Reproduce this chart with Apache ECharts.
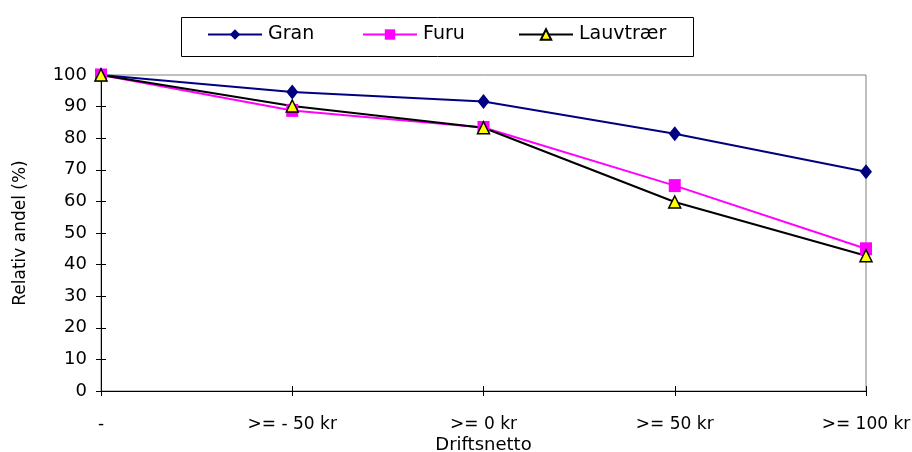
<!DOCTYPE html>
<html>
<head>
<meta charset="utf-8">
<script src="https://cdn.jsdelivr.net/npm/echarts@6/dist/echarts.min.js"></script>
<style>
html,body{margin:0;padding:0;background:#fff;}
#chart{width:912px;height:452px;}
</style>
</head>
<body>
<div id="chart"></div>
<script>
var categories = ['-', '>= - 50 kr', '>= 0 kr', '>= 50 kr', '>= 100 kr'];
var gran = [100, 94.6, 91.6, 81.4, 69.4];
var furu = [100, 88.8, 83.4, 65.0, 45.0];
var lauvtraer = [100, 90.2, 83.3, 59.8, 42.8];
var yTicks = [0, 10, 20, 30, 40, 50, 60, 70, 80, 90, 100];
var seriesNames = ['Gran', 'Furu', 'Lauvtrær'];

var FONT = 'DejaVu Sans';
var legendLefts = [207, 362, 518];
var legends = seriesNames.map(function (n, i) {
  return {
    left: legendLefts[i], top: 25, itemWidth: 54, itemHeight: 13, itemGap: 0,
    padding: 0,
    textStyle: {fontFamily: FONT, fontSize: 19, color: '#000', padding: [0,0,0,1]},
    data: [n]
  };
});

var chart = echarts.init(document.getElementById('chart'));
chart.setOption({
  animation: false,
  backgroundColor: '#fff',
  textStyle: {fontFamily: FONT},
  grid: {left: 101, right: 46, top: 75, bottom: 61, show: true, borderColor: '#808080', borderWidth: 1,
         outerBoundsMode: 'none', containLabel: false},
  legend: legends,
  graphic: [{
    type: 'rect', left: 179, top: 15, shape: {width: 512, height: 39},
    style: {fill: 'none', stroke: '#000', lineWidth: 1}, z: 100
  }],
  xAxis: [{
    type: 'category', data: categories, boundaryGap: false,
    name: 'Driftsnetto', nameLocation: 'middle', nameGap: 45, nameMoveOverlap: false,
    nameTextStyle: {fontFamily: FONT, fontSize: 18, color: '#000'},
    axisLine: {lineStyle: {color: '#000', width: 1}},
    axisTick: {show: true, length: 5, alignWithLabel: true, lineStyle: {color: '#000'}},
    axisLabel: {color: '#000', fontFamily: FONT, fontSize: 17, margin: 25, interval: 0},
    splitLine: {show: false}
  }, {
    type: 'category', data: categories, boundaryGap: false, position: 'bottom',
    axisLine: {show: false},
    axisTick: {show: true, inside: true, length: 5, lineStyle: {color: '#000'}},
    axisLabel: {show: false}, splitLine: {show: false}
  }],
  yAxis: [{
    type: 'value', min: 0, max: 100, interval: 10,
    name: 'Relativ andel (%)', nameLocation: 'middle', nameGap: 72, nameMoveOverlap: false,
    nameTextStyle: {fontFamily: FONT, fontSize: 17, color: '#000'},
    axisLine: {show: true, lineStyle: {color: '#000', width: 1}},
    axisTick: {show: true, length: 5, lineStyle: {color: '#000'}},
    axisLabel: {color: '#000', fontFamily: FONT, fontSize: 18, margin: 14,
      formatter: function (v) { return yTicks.indexOf(v) >= 0 ? String(v) : ''; }},
    splitLine: {show: false}
  }, {
    type: 'value', min: 0, max: 100, interval: 10, position: 'left',
    axisLine: {show: false},
    axisTick: {show: true, inside: true, length: 5, lineStyle: {color: '#000'}},
    axisLabel: {show: false}, splitLine: {show: false}
  }],
  series: [{
    name: 'Gran', type: 'line', data: gran,
    symbol: 'diamond', symbolSize: [12, 15],
    lineStyle: {color: '#000080', width: 2},
    itemStyle: {color: '#000080', borderColor: '#000080', borderWidth: 0}
  }, {
    name: 'Furu', type: 'line', data: furu,
    symbol: 'rect', symbolSize: [12, 13],
    lineStyle: {color: '#FF00FF', width: 2},
    itemStyle: {color: '#FF00FF', borderColor: '#FF00FF', borderWidth: 0}
  }, {
    name: 'Lauvtrær', type: 'line', data: lauvtraer,
    symbol: 'triangle', symbolSize: [12, 12],
    lineStyle: {color: '#000', width: 2},
    itemStyle: {color: '#FFFF00', borderColor: '#000', borderWidth: 1.5}
  }]
});
</script>
</body>
</html>
